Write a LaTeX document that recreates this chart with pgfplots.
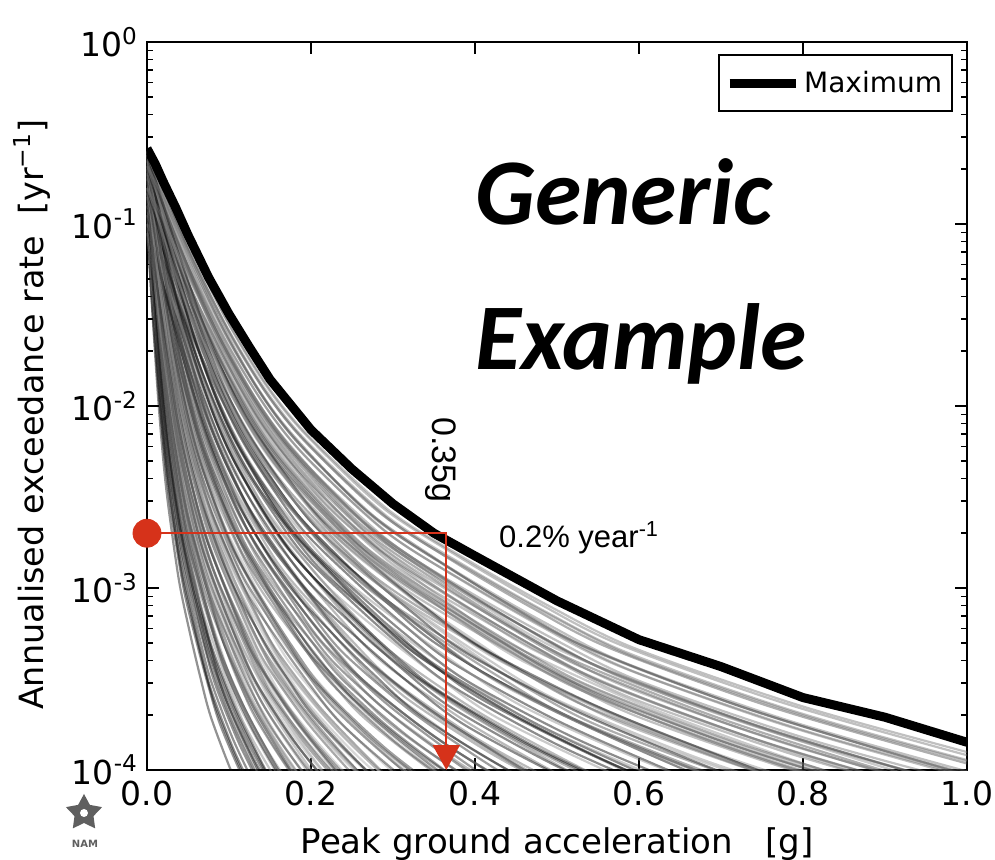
\documentclass[border=0pt]{standalone}
\usepackage{fontspec}
\setmainfont{DejaVu Sans}
\newfontfamily\arialfont{Liberation Sans}
\newfontfamily\calfont{Carlito}
\usepackage{pgfplots}
\pgfplotsset{compat=1.18}
\usepackage{pgfplotstable}
\usetikzlibrary{arrows.meta,shapes.geometric}

\definecolor{arrowred}{RGB}{214,50,26}
\definecolor{logogray}{RGB}{95,95,95}

% hazard curves: each table shares the x columns (one per curve shape),
% y, y2, y3 are three starting rates
\pgfplotstableread{
y y2 y3 x1 x2 x3 x4 x5 x6 x7 x8 x9 x10
0.251 0.141 0.190 0 0 0 0 0 0 0 0 0 0
0.166 0.0933 0.126 0.0026 0.0036 0.0046 0.0056 0.0072 0.0092 0.0118 0.0148 0.0176 0.0192
0.0832 0.0468 0.0631 0.0065 0.009 0.0115 0.014 0.018 0.023 0.0295 0.037 0.044 0.048
0.0302 0.0170 0.0229 0.013 0.018 0.023 0.028 0.036 0.046 0.059 0.074 0.088 0.096
0.0132 0.00742 0.0100 0.0195 0.027 0.0345 0.042 0.054 0.069 0.0885 0.111 0.132 0.144
0.00708 0.00398 0.00537 0.026 0.036 0.046 0.056 0.072 0.092 0.118 0.148 0.176 0.192
0.00275 0.00155 0.00209 0.039 0.054 0.069 0.084 0.108 0.138 0.177 0.222 0.264 0.288
0.00145 0.000815 0.0011 0.052 0.072 0.092 0.112 0.144 0.184 0.236 0.296 0.352 0.384
0.000813 0.000457 0.000617 0.065 0.09 0.115 0.14 0.18 0.23 0.295 0.37 0.44 0.48
0.00049 0.000276 0.000372 0.078 0.108 0.138 0.168 0.216 0.276 0.354 0.444 0.528 0.576
0.00024 0.000135 0.000182 0.104 0.144 0.184 0.224 0.288 0.368 0.472 0.592 0.704 0.768
0.000135 7.59e-5 0.000102 0.13 0.18 0.23 0.28 0.36 0.46 0.59 0.74 0.88 0.96
7.94e-5 4.46e-5 6.02e-5 0.156 0.216 0.276 0.336 0.432 0.552 0.708 0.888 1.056 1.152
3.55e-5 2.0e-5 2.69e-5 0.195 0.27 0.345 0.42 0.54 0.69 0.885 1.11 1.32 1.44
}\gA

\pgfplotstableread{
y y2 y3 x1 x2 x3 x4 x5 x6 x7 x8 x9 x10
0.200 0.112 0.148 0 0 0 0 0 0 0 0 0 0
0.132 0.0742 0.0977 0.0028 0.0038 0.0048 0.0058 0.0076 0.0096 0.0124 0.0154 0.018 0.0194
0.0661 0.0372 0.049 0.007 0.0095 0.012 0.0145 0.019 0.024 0.031 0.0385 0.045 0.0485
0.0240 0.0135 0.0178 0.014 0.019 0.024 0.029 0.038 0.048 0.062 0.077 0.09 0.097
0.0105 0.0059 0.00777 0.021 0.0285 0.036 0.0435 0.057 0.072 0.093 0.1155 0.135 0.1455
0.00562 0.00316 0.00417 0.028 0.038 0.048 0.058 0.076 0.096 0.124 0.154 0.18 0.194
0.00219 0.00123 0.00162 0.042 0.057 0.072 0.087 0.114 0.144 0.186 0.231 0.27 0.291
0.00115 0.000648 0.000854 0.056 0.076 0.096 0.116 0.152 0.192 0.248 0.308 0.36 0.388
0.000646 0.000363 0.000479 0.07 0.095 0.12 0.145 0.19 0.24 0.31 0.385 0.45 0.485
0.000389 0.000219 0.000289 0.084 0.114 0.144 0.174 0.228 0.288 0.372 0.462 0.54 0.582
0.000191 0.000107 0.000141 0.112 0.152 0.192 0.232 0.304 0.384 0.496 0.616 0.72 0.776
0.000107 6.03e-5 7.95e-5 0.14 0.19 0.24 0.29 0.38 0.48 0.62 0.77 0.9 0.97
6.31e-5 3.55e-5 4.68e-5 0.168 0.228 0.288 0.348 0.456 0.576 0.744 0.924 1.08 1.164
2.82e-5 1.59e-5 2.09e-5 0.21 0.285 0.36 0.435 0.57 0.72 0.93 1.155 1.35 1.455
}\gB

\pgfplotstableread{
y y2 y3 x1 x2 x3 x4 x5 x6 x7 x8 x9 x10
0.158 0.224 0.0891 0 0 0 0 0 0 0 0 0 0
0.105 0.148 0.0589 0.003 0.004 0.005 0.006 0.008 0.01 0.013 0.016 0.0184 0.0196
0.0525 0.0742 0.0295 0.0075 0.01 0.0125 0.015 0.02 0.025 0.0325 0.04 0.046 0.049
0.0191 0.0269 0.0107 0.015 0.02 0.025 0.03 0.04 0.05 0.065 0.08 0.092 0.098
0.00832 0.0118 0.00468 0.0225 0.03 0.0375 0.045 0.06 0.075 0.0975 0.12 0.138 0.147
0.00447 0.00631 0.00251 0.03 0.04 0.05 0.06 0.08 0.1 0.13 0.16 0.184 0.196
0.00174 0.00245 0.000976 0.045 0.06 0.075 0.09 0.12 0.15 0.195 0.24 0.276 0.294
0.000912 0.00129 0.000514 0.06 0.08 0.1 0.12 0.16 0.2 0.26 0.32 0.368 0.392
0.000513 0.000725 0.000288 0.075 0.1 0.125 0.15 0.2 0.25 0.325 0.4 0.46 0.49
0.000309 0.000437 0.000174 0.09 0.12 0.15 0.18 0.24 0.3 0.39 0.48 0.552 0.588
0.000151 0.000214 8.52e-5 0.12 0.16 0.2 0.24 0.32 0.4 0.52 0.64 0.736 0.784
8.51e-5 0.00012 4.79e-5 0.15 0.2 0.25 0.3 0.4 0.5 0.65 0.8 0.92 0.98
5.01e-5 7.08e-5 2.82e-5 0.18 0.24 0.3 0.36 0.48 0.6 0.78 0.96 1.104 1.176
2.24e-5 3.16e-5 1.26e-5 0.225 0.3 0.375 0.45 0.6 0.75 0.975 1.2 1.38 1.47
}\gC

\pgfplotstableread{
y y2 y3 x1 x2 x3 x4 x5 x6 x7 x8 x9 x10
0.126 0.178 0.240 0 0 0 0 0 0 0 0 0 0
0.0832 0.1175 0.1585 0.0032 0.0042 0.0052 0.0064 0.0084 0.0106 0.0136 0.0166 0.0188 0.0198
0.0417 0.0589 0.0795 0.008 0.0105 0.013 0.016 0.021 0.0265 0.034 0.0415 0.047 0.0495
0.0151 0.0214 0.0288 0.016 0.021 0.026 0.032 0.042 0.053 0.068 0.083 0.094 0.099
0.00661 0.00934 0.0126 0.024 0.0315 0.039 0.048 0.063 0.0795 0.102 0.1245 0.141 0.1485
0.00355 0.00501 0.00676 0.032 0.042 0.052 0.064 0.084 0.106 0.136 0.166 0.188 0.198
0.00138 0.00195 0.00263 0.048 0.063 0.078 0.096 0.126 0.159 0.204 0.249 0.282 0.297
0.000724 0.00103 0.00138 0.064 0.084 0.104 0.128 0.168 0.212 0.272 0.332 0.376 0.396
0.000407 0.000576 0.000776 0.08 0.105 0.13 0.16 0.21 0.265 0.34 0.415 0.47 0.495
0.000245 0.000347 0.000468 0.096 0.126 0.156 0.192 0.252 0.318 0.408 0.498 0.564 0.594
0.00012 0.00017 0.000229 0.128 0.168 0.208 0.256 0.336 0.424 0.544 0.664 0.752 0.792
6.76e-5 9.56e-5 0.000129 0.16 0.21 0.26 0.32 0.42 0.53 0.68 0.83 0.94 0.99
3.98e-5 5.62e-5 7.58e-5 0.192 0.252 0.312 0.384 0.504 0.636 0.816 0.996 1.128 1.188
1.78e-5 2.51e-5 3.39e-5 0.24 0.315 0.39 0.48 0.63 0.795 1.02 1.245 1.41 1.485
}\gD

\pgfplotstableread{
y y2 y3 x1 x2 x3 x4 x5 x6 x7 x8 x9 x10
0.1 0.209 0.158 0 0 0 0 0 0 0 0 0 0
0.0661 0.138 0.105 0.0026 0.0034 0.0044 0.0054 0.0068 0.0088 0.0112 0.0142 0.0172 0.02
0.0331 0.0692 0.0525 0.0065 0.0085 0.011 0.0135 0.017 0.022 0.028 0.0355 0.043 0.05
0.012 0.0251 0.0191 0.013 0.017 0.022 0.027 0.034 0.044 0.056 0.071 0.086 0.1
0.00525 0.011 0.00832 0.0195 0.0255 0.033 0.0405 0.051 0.066 0.084 0.1065 0.129 0.15
0.00282 0.00589 0.00447 0.026 0.034 0.044 0.054 0.068 0.088 0.112 0.142 0.172 0.2
0.0011 0.00229 0.00174 0.039 0.051 0.066 0.081 0.102 0.132 0.168 0.213 0.258 0.3
0.000575 0.00121 0.000912 0.052 0.068 0.088 0.108 0.136 0.176 0.224 0.284 0.344 0.4
0.000324 0.000676 0.000513 0.065 0.085 0.11 0.135 0.17 0.22 0.28 0.355 0.43 0.5
0.000195 0.000408 0.000309 0.078 0.102 0.132 0.162 0.204 0.264 0.336 0.426 0.516 0.6
9.55e-5 0.0002 0.000151 0.104 0.136 0.176 0.216 0.272 0.352 0.448 0.568 0.688 0.8
5.37e-5 0.000112 8.51e-5 0.13 0.17 0.22 0.27 0.34 0.44 0.56 0.71 0.86 1.0
3.16e-5 6.6e-5 5.01e-5 0.156 0.204 0.264 0.324 0.408 0.528 0.672 0.852 1.032 1.2
1.41e-5 2.95e-5 2.24e-5 0.195 0.255 0.33 0.405 0.51 0.66 0.84 1.065 1.29 1.5
}\gE

\begin{document}
\begin{tikzpicture}
\begin{axis}[
    name=ax,
    scale only axis,
    width=410pt, height=364pt,
    xmin=0, xmax=1, ymin=1e-4, ymax=1,
    ymode=log,
    xtick={0,0.2,0.4,0.6,0.8,1},
    xticklabels={0.0,0.2,0.4,0.6,0.8,1.0},
    ytick={1e-4,1e-3,1e-2,1e-1,1},
    yticklabels={10\textsuperscript{-4},10\textsuperscript{-3},10\textsuperscript{-2},10\textsuperscript{-1},10\textsuperscript{0}},
    tick align=inside,
    major tick length=6pt, minor tick length=3pt,
    tick style={black, line width=0.8pt},
    axis line style={line width=1pt},
    ticklabel style={font=\fontsize{16.5}{19}\selectfont},
    yticklabel style={xshift=-1pt},
    xticklabel style={yshift=-2pt},
    xlabel={Peak ground acceleration\ \ \ [g]},
    ylabel={Annualised exceedance rate\ \ [yr\textsuperscript{−1}]},
    label style={font=\fontsize{17}{20}\selectfont},
    xlabel style={at={(axis description cs:0.5,0)}, anchor=base, yshift=-41.5pt},
    ylabel style={at={(axis description cs:-0.1268,0.488)}, anchor=base,
        font=\fontsize{16.7}{20}\selectfont},
    legend style={at={(0.983,0.9835)}, anchor=north east, draw=black,
        line width=1pt, font=\fontsize{14}{16}\selectfont,
        inner xsep=3pt, inner ysep=6pt},
    legend cell align=left,
]

\foreach \t in {gA,gB,gC,gD,gE}{
  \foreach \yc in {y,y2,y3}{
    \foreach \col/\shade in {x1/95,x2/50,x3/75,x4/35,x5/85,x6/60,x7/100,x8/45,x9/70,x10/55}{
      \edef\tmp{\noexpand\addplot[forget plot, smooth, line width=1.1pt,
          draw=black!\shade, draw opacity=0.45]
          table[x=\col, y=\yc] {\expandafter\noexpand\csname\t\endcsname};}
      \tmp
    }
  }
}

\addplot[black, line width=4.5pt, line join=round,
    legend image code/.code={\draw[line width=4.5pt] (0pt,0pt) -- (33pt,0pt);}]
coordinates {
(0,0.26) (0.01,0.214) (0.02,0.17) (0.035,0.123) (0.05,0.087) (0.075,0.051)
(0.1,0.032) (0.125,0.021) (0.15,0.014) (0.2,0.0074) (0.25,0.0045)
(0.3,0.0029) (0.35,0.002) (0.4,0.0015) (0.5,0.00085) (0.6,0.00052)
(0.7,0.00037) (0.8,0.00025) (0.9,0.000195) (1.0,0.000142)
};
\addlegendentry{Maximum}

\addplot[forget plot, arrowred, line width=1.1pt,
    -{Triangle[width=13.5pt,length=12.5pt]}]
coordinates {(0,0.002) (0.365,0.002) (0.365,0.0001)};
\addplot[forget plot, only marks, mark=*, mark size=7pt,
    mark options={fill=arrowred, draw=arrowred}]
coordinates {(0,0.002)};

\node[anchor=base west, inner sep=0,
    font=\calfont\bfseries\itshape\fontsize{47}{50}\selectfont]
    at (axis cs:0.4,0.099) {Generic};
\node[anchor=base west, inner sep=0,
    font=\calfont\bfseries\itshape\fontsize{47}{50}\selectfont]
    at (axis cs:0.4,0.0158) {Example};
\node[rotate=-90, inner sep=0, font=\arialfont\fontsize{17}{20}\selectfont]
    at (axis cs:0.3585,0.00505) {0.35g};
\node[anchor=base west, inner sep=0, font=\arialfont\fontsize{15.5}{18}\selectfont]
    at (axis cs:0.429,0.00168) {0.2\% year\textsuperscript{-1}};
\end{axis}

% NAM logo
\node[star, star points=5, star point ratio=1.9, fill=logogray,
    minimum size=19pt, inner sep=0] at ([xshift=-31.5pt,yshift=-21.5pt]ax.south west) {};
\fill[white] ([xshift=-31.5pt,yshift=-21.5pt]ax.south west) circle (2pt);
\node[font=\bfseries\fontsize{5}{6}\selectfont, text=logogray]
    at ([xshift=-31pt,yshift=-37pt]ax.south west) {NAM};

\pgfresetboundingbox
\path ([xshift=-73.5pt,yshift=-45pt]ax.south west) rectangle ([xshift=14pt,yshift=21pt]ax.north east);
\end{tikzpicture}
\end{document}
